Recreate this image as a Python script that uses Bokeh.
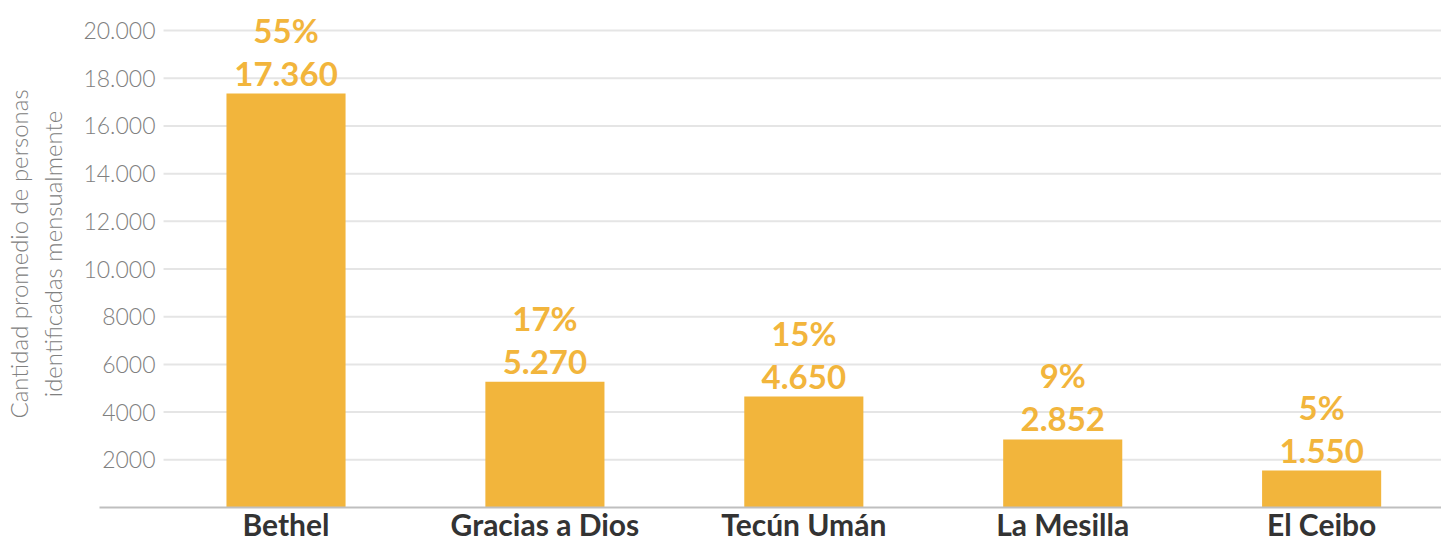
from bokeh.plotting import figure
from bokeh.models import Range1d, FixedTicker, ColumnDataSource
from bokeh.embed import file_html
from bokeh.resources import INLINE
from bokeh.core.properties import value

# ---- data ----
categories = ["Bethel", "Gracias a Dios", "Tecún Umán", "La Mesilla", "El Ceibo"]
personas = [17360, 5270, 4650, 2852, 1550]
porcentajes = ["55%", "17%", "15%", "9%", "5%"]
y_ticks = [0, 2000, 4000, 6000, 8000, 10000, 12000, 14000, 16000, 18000, 20000]
y_tick_labels = ["", "2000", "4000", "6000", "8000", "10.000", "12.000",
                 "14.000", "16.000", "18.000", "20.000"]
y_title = "Cantidad promedio de personas\nidentificadas mensualmente"

BAR = "#F2B53C"
GREY = "#808080"
LIGHT_FONT = "'Lato Light', Lato"

X_START, X_END = -0.7204, 4.463
GRID_START = -0.473
Y_END = 21261

xs = list(range(len(categories)))
num_labels = [f"{v:,}".replace(",", ".") for v in personas]
src = ColumnDataSource(dict(x=xs, top=personas, num=num_labels, pct=porcentajes))

p = figure(width=1441, height=544, output_backend="svg", toolbar_location=None,
           x_range=Range1d(X_START, X_END), y_range=Range1d(0, Y_END),
           min_border_left=99, min_border_right=0, min_border_top=0,
           min_border_bottom=0)
p.outline_line_color = None

# horizontal grid lines, starting right of the tick labels
grid_y = y_ticks[1:]
p.segment(x0=[GRID_START] * len(grid_y), x1=[X_END] * len(grid_y),
          y0=grid_y, y1=grid_y, line_color="#e5e5e5", line_width=2)

p.vbar(x="x", top="top", bottom=0, width=0.46, source=src,
       fill_color=BAR, line_color=None)

p.text(x="x", y="top", text="num", source=src, text_align="center",
       text_baseline="alphabetic", y_offset=-20, text_font=value("Lato"),
       text_font_style="bold", text_font_size="33px", text_color=BAR)
p.text(x="x", y="top", text="pct", source=src, text_align="center",
       text_baseline="alphabetic", y_offset=-64, text_font=value("Lato"),
       text_font_style="bold", text_font_size="33px", text_color=BAR)

# x axis (baseline)
xa = p.xaxis[0]
xa.ticker = FixedTicker(ticks=xs)
xa.major_label_overrides = {i: c for i, c in zip(xs, categories)}
xa.axis_line_color = "#bfbfbf"
xa.axis_line_width = 2
xa.major_tick_line_color = None
xa.minor_tick_line_color = None
xa.major_tick_out = 0
xa.major_tick_in = 0
xa.minor_tick_out = 0
xa.axis_label_standoff = 0
xa.major_label_standoff = -2
xa.major_label_text_font = "Lato"
xa.major_label_text_font_style = "bold"
xa.major_label_text_font_size = "30px"
xa.major_label_text_color = "#333333"

# y axis (labels sit inside the frame, left of the grid lines)
ya = p.yaxis[0]
ya.ticker = FixedTicker(ticks=y_ticks)
ya.major_label_overrides = {t: l for t, l in zip(y_ticks, y_tick_labels)}
ya.axis_line_color = None
ya.major_tick_line_color = None
ya.minor_tick_line_color = None
ya.major_tick_out = 0
ya.major_tick_in = 0
ya.minor_tick_out = 0
ya.major_label_standoff = -56
ya.major_label_text_font = LIGHT_FONT
ya.major_label_text_font_size = "23px"
ya.major_label_text_color = GREY
ya.axis_label = y_title
ya.axis_label_text_font = LIGHT_FONT
ya.axis_label_text_font_style = "normal"
ya.axis_label_text_font_size = "24px"
ya.axis_label_text_color = GREY
ya.axis_label_standoff = 13

p.xgrid.grid_line_color = None
p.ygrid.grid_line_color = None

open("out.html", "w").write(file_html(p, INLINE))
